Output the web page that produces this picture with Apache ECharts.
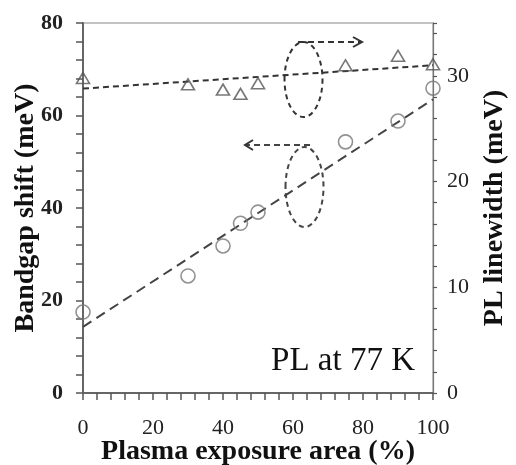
<!DOCTYPE html>
<html>
<head>
<meta charset="utf-8">
<script src="https://cdn.jsdelivr.net/npm/echarts@6/dist/echarts.min.js"></script>
<style>
html,body{margin:0;padding:0;background:#fff;}
#chart{width:516px;height:465px;}
</style>
</head>
<body>
<div id="chart"></div>
<script>
// Data
const exposure = [0, 30, 40, 45, 50, 75, 90, 100];
const bandgapShift = [17.5, 25.3, 31.8, 36.7, 39.1, 54.3, 58.8, 65.9];
const plLinewidth = [29.8, 29.2, 28.7, 28.3, 29.3, 31.0, 31.9, 31.1];
const fitX = [0, 100];
const bandgapFit = [14.3, 63.5];
const linewidthFit = [28.8, 31.0];
const xTickLabels = [0, 20, 40, 60, 80, 100];
const leftTickLabels = [0, 20, 40, 60, 80];
const rightTickLabels = [0, 10, 20, 30];

const FONT = '"Liberation Serif", "Times New Roman", serif';
const pair = (xs, ys) => xs.map((x, i) => [x, ys[i]]);

const chart = echarts.init(document.getElementById('chart'), null, {renderer: 'canvas'});
chart.setOption({
  animation: false,
  backgroundColor: '#fff',
  grid: {left: 83, right: 83, top: 23, bottom: 72, containLabel: false, outerBoundsMode: 'none',
    show: true, borderColor: '#b0b0b0', borderWidth: 1.5, backgroundColor: 'transparent'},
  xAxis: {
    type: 'value', min: 0, max: 100, interval: 4,
    name: 'Plasma exposure area (%)', nameLocation: 'middle', nameGap: 45, nameMoveOverlap: false,
    nameTextStyle: {fontFamily: FONT, fontWeight: 'bold', fontSize: 28, color: '#111'},
    axisLine: {show: true, onZero: false, lineStyle: {color: '#666', width: 2}},
    axisTick: {show: true, inside: false, length: 7, lineStyle: {color: '#555', width: 1.5}},
    axisLabel: {margin: 24, fontFamily: FONT, fontSize: 22, color: '#222',
      formatter: v => xTickLabels.includes(v) ? String(v) : ''},
    splitLine: {show: false}
  },
  yAxis: [{
    type: 'value', min: 0, max: 80, interval: 4, position: 'left',
    name: 'Bandgap shift (meV)', nameLocation: 'middle', nameGap: 43, nameRotate: 90, nameMoveOverlap: false,
    nameTextStyle: {fontFamily: FONT, fontWeight: 'bold', fontSize: 28, color: '#111'},
    axisLine: {show: true, onZero: false, lineStyle: {color: '#666', width: 2}},
    axisTick: {show: true, inside: false, length: 7, lineStyle: {color: '#555', width: 1.5}},
    axisLabel: {margin: 20, fontFamily: FONT, fontSize: 22, color: '#222', fontWeight: 'bold',
      formatter: v => leftTickLabels.includes(v) ? String(v) : ''},
    splitLine: {show: false}
  }, {
    type: 'value', min: 0, max: 35, interval: 2, position: 'right',
    name: 'PL linewidth (meV)', nameLocation: 'middle', nameGap: 48, nameRotate: 90, nameMoveOverlap: false,
    nameTextStyle: {fontFamily: FONT, fontWeight: 'bold', fontSize: 28, color: '#111'},
    axisLine: {show: true, onZero: false, lineStyle: {color: '#777', width: 1.2}},
    axisTick: {show: true, inside: false, length: 4, lineStyle: {color: '#555', width: 1.2}},
    axisLabel: {margin: 14, fontFamily: FONT, fontSize: 22, color: '#222',
      formatter: v => rightTickLabels.includes(v) ? String(v) : ''},
    splitLine: {show: false}
  }],
  series: [{
    type: 'line', xAxisIndex: 0, yAxisIndex: 0, data: pair(fitX, bandgapFit),
    symbol: 'none', z: 2, lineStyle: {color: '#444', width: 2, type: [10, 6]}
  }, {
    type: 'line', xAxisIndex: 0, yAxisIndex: 1, data: pair(fitX, linewidthFit),
    symbol: 'none', z: 2, lineStyle: {color: '#333', width: 2, type: [6, 4]}
  }, {
    type: 'scatter', xAxisIndex: 0, yAxisIndex: 0, data: pair(exposure, bandgapShift),
    symbol: 'circle', symbolSize: 14, z: 3,
    itemStyle: {color: 'rgba(255,255,255,0)', borderColor: '#777', borderWidth: 1.6}
  }, {
    type: 'scatter', xAxisIndex: 0, yAxisIndex: 1, data: pair(exposure, plLinewidth),
    symbol: 'triangle', symbolSize: [13, 11], z: 3,
    itemStyle: {color: 'rgba(255,255,255,0)', borderColor: '#555', borderWidth: 1.6}
  }],
  graphic: [
    {type: 'ellipse', shape: {cx: 303.5, cy: 79.5, rx: 19, ry: 37.5}, z: 10,
      style: {fill: 'none', stroke: '#333', lineWidth: 2, lineDash: [5, 4]}},
    {type: 'ellipse', shape: {cx: 304.5, cy: 187, rx: 19, ry: 40}, z: 10,
      style: {fill: 'none', stroke: '#444', lineWidth: 2, lineDash: [5, 4]}},
    {type: 'polyline', shape: {points: [[298, 42], [361, 42]]}, z: 10,
      style: {fill: 'none', stroke: '#333', lineWidth: 2, lineDash: [6, 4]}},
    {type: 'polyline', shape: {points: [[353, 37], [362, 42], [353, 47]]}, z: 10,
      style: {fill: 'none', stroke: '#333', lineWidth: 2}},
    {type: 'polyline', shape: {points: [[310, 145], [246, 145]]}, z: 10,
      style: {fill: 'none', stroke: '#444', lineWidth: 2, lineDash: [6, 4]}},
    {type: 'polyline', shape: {points: [[253, 140], [245, 145], [253, 150]]}, z: 10,
      style: {fill: 'none', stroke: '#333', lineWidth: 2}},
    {type: 'text', z: 10, style: {text: 'PL at 77 K', x: 415, y: 361, textAlign: 'right', textVerticalAlign: 'middle',
      font: '33px ' + FONT, fill: '#111'}}
  ]
});
</script>
</body>
</html>
